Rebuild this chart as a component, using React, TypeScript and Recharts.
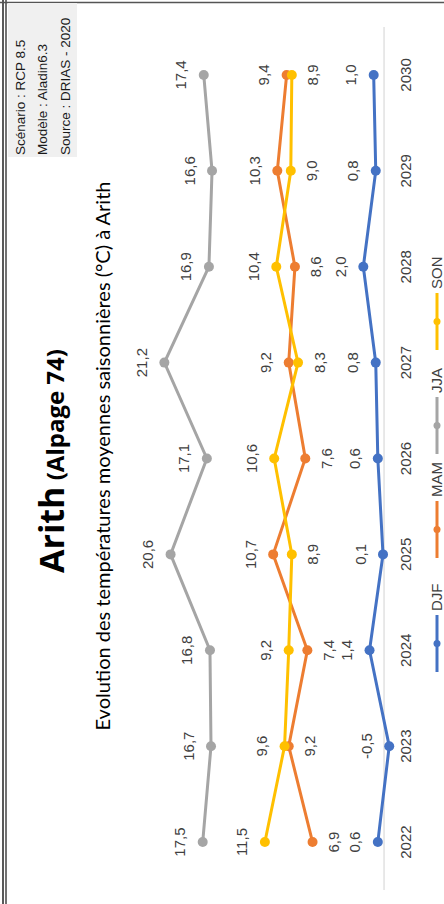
import React from "react";
import { LineChart, Line, XAxis, YAxis, LabelList, ReferenceLine, Legend } from "recharts";

const years = [2022, 2023, 2024, 2025, 2026, 2027, 2028, 2029, 2030];
const djf = [0.6, -0.5, 1.4, 0.1, 0.6, 0.8, 2.0, 0.8, 1.0];
const mam = [6.9, 9.2, 7.4, 10.7, 7.6, 9.2, 8.6, 10.3, 9.4];
const jja = [17.5, 16.7, 16.8, 20.6, 17.1, 21.2, 16.9, 16.6, 17.4];
const son = [11.5, 9.6, 9.2, 8.9, 10.6, 8.3, 10.4, 9.0, 8.9];

const seriesNames = ["DJF", "MAM", "JJA", "SON"];
const colors: Record<string, string> = {
  DJF: "#4472C4",
  MAM: "#ED7D31",
  JJA: "#A5A5A5",
  SON: "#FFC000",
};

const data = years.map((y, i) => ({ year: y, DJF: djf[i], MAM: mam[i], JJA: jja[i], SON: son[i] }));

const W = 904;
const H = 444;

const fmt = (v: number) => v.toFixed(1).replace(".", ",");

function placement(key: string, i: number): "above" | "below" {
  if (key === "MAM") return mam[i] >= son[i] ? "above" : "below";
  if (key === "SON") return son[i] > mam[i] ? "above" : "below";
  return "above";
}

const makeLabel = (key: string) => (props: any) => {
  const x = props.x ?? props.viewBox?.x;
  const y = props.y ?? props.viewBox?.y;
  let idx = props.index;
  if (idx === undefined && props.payload) idx = years.indexOf(props.payload.year);
  if (x === undefined || y === undefined || idx === undefined) return null;
  const pos = placement(key, idx);
  const ty = pos === "above" ? y - 23 : y + 21;
  return (
    <text
      key={`${key}-${idx}`}
      x={x}
      y={ty}
      textAnchor="middle"
      dominantBaseline="central"
      fontFamily="Liberation Sans, Arial, sans-serif"
      fontSize={15}
      fill="#404040"
    >
      {fmt(Number(props.value))}
    </text>
  );
};

const legendItems = [
  { name: "DJF", start: 232 },
  { name: "MAM", start: 346 },
  { name: "JJA", start: 450 },
  { name: "SON", start: 554 },
];

const renderLegend = () => (
  <svg width={W} height={H} style={{ position: "absolute", left: 0, top: 0, overflow: "visible", pointerEvents: "none" }}>
    {legendItems.map((it) => (
      <g key={it.name}>
        <line x1={it.start} x2={it.start + 57} y1={437} y2={437} stroke={colors[it.name]} strokeWidth={3} />
        <circle cx={it.start + 28.5} cy={437} r={3.5} fill={colors[it.name]} />
        <text
          x={it.start + 61}
          y={442}
          fontFamily="Liberation Sans, Arial, sans-serif"
          fontSize={15}
          fill="#404040"
        >
          {it.name}
        </text>
      </g>
    ))}
  </svg>
);

export default function App() {
  return (
    <div style={{ position: "fixed", left: 0, top: 0, width: H, height: W, overflow: "hidden", background: "#fff" }}>
      <div
        style={{
          position: "absolute",
          left: 0,
          top: 0,
          width: W,
          height: H,
          transform: `translateY(${W}px) rotate(-90deg)`,
          transformOrigin: "0 0",
          background: "#fff",
        }}
      >
        <svg width={W} height={H} style={{ position: "absolute", left: 0, top: 0 }}>
          <line x1={0} x2={W} y1={3} y2={3} stroke="#222" strokeWidth={1.5} />
          <line x1={0} x2={W} y1={6} y2={6} stroke="#444" strokeWidth={1.5} />
          <line x1={901.5} x2={901.5} y1={0} y2={H} stroke="#555" strokeWidth={1.5} />
          <rect x={747} y={8} width={154} height={69} fill="#f0f0f0" />
          <g fontFamily="Liberation Sans, Arial, sans-serif" fontSize={13.5} fill="#1a1a1a">
            <text x={749} y={25}>Scénario : RCP 8.5</text>
            <text x={749} y={47}>Modèle : Aladin6.3</text>
            <text x={749} y={70}>Source : DRIAS - 2020</text>
          </g>
          <text x={443} y={64} textAnchor="middle" fontFamily="Open Sans, sans-serif" fontWeight={700} fill="#000">
            <tspan fontSize={34}>Arith</tspan>
            <tspan fontSize={24}> (Alpage 74)</tspan>
          </text>
          <text x={448} y={110} textAnchor="middle" fontFamily="Lato, sans-serif" fontSize={20} fill="#000">
            Evolution des températures moyennes saisonnières (°C) à Arith
          </text>
        </svg>
        <div style={{ position: "absolute", left: 0, top: 0 }}>
          <LineChart width={W} height={H} data={data} margin={{ top: 125, right: 27, bottom: 19.6, left: 14 }}>
            <XAxis
              dataKey="year"
              type="number"
              domain={[2021.5, 2030.5]}
              ticks={years}
              axisLine={false}
              tickLine={false}
              tickSize={0}
              tickMargin={6}
              height={30}
              interval={0}
              tick={{ fontFamily: "Liberation Sans, Arial, sans-serif", fontSize: 15, fill: "#404040" }}
              tickFormatter={(v: number) => String(v)}
            />
            <YAxis type="number" domain={[-1, 25]} hide width={0} />
            <ReferenceLine y={0} stroke="#d9d9d9" strokeWidth={1.2} />
            {seriesNames.map((k) => (
              <Line
                key={k}
                type="linear"
                dataKey={k}
                stroke={colors[k]}
                strokeWidth={3}
                dot={{ r: 5, fill: colors[k], stroke: colors[k], strokeWidth: 0 }}
                activeDot={false}
                isAnimationActive={false}
              >
                <LabelList dataKey={k} content={makeLabel(k)} />
              </Line>
            ))}
            <Legend
              content={renderLegend}
              wrapperStyle={{ position: "absolute", left: 0, top: 0, width: 0, height: 0, overflow: "visible" }}
            />
          </LineChart>
        </div>
      </div>
    </div>
  );
}
